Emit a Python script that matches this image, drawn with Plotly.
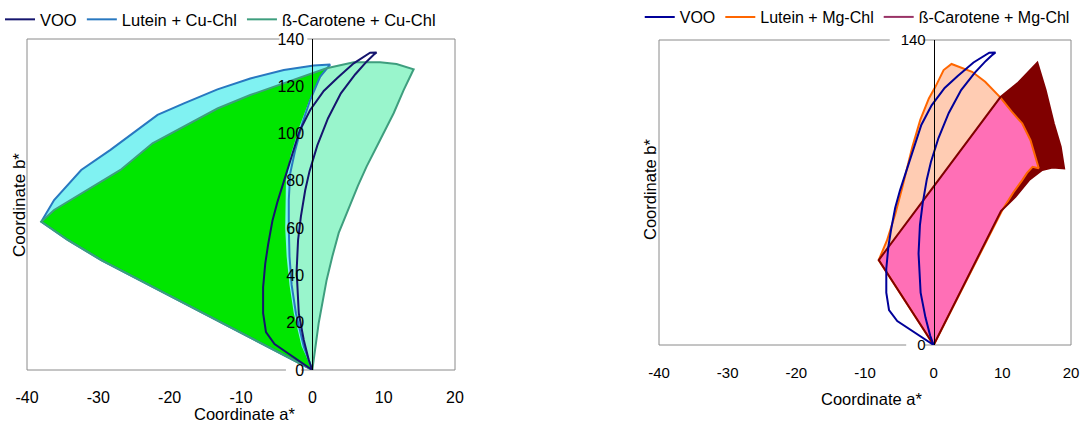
import plotly.graph_objects as go

# ---- VOO colour trajectory (a*, b*) shared by both panels ----
voo_a = [0, -1.7, -3.5, -5.3, -6.5, -6.9, -6.9, -6.6, -6.2, -5.6, -4.9, -4.3, -3.5, -2.6, -1.8, -0.3,
         1.6, 3.5, 5.8, 8.1, 9.0, 8.6, 7.6, 6.0, 4.0, 2.2, 0.7, -0.4, -1.0, -1.6, -2.0, -2.2, -2.1,
         -1.9, -1.2, -0.5, 0]
voo_b = [0, 3.5, 7, 11, 16, 24, 35, 45, 53, 63, 71, 77, 85, 93, 101, 110,
         118, 123.5, 129.7, 134.2, 134.3, 133.3, 130.4, 125, 117, 106.5, 95, 84, 76, 65, 55, 42, 33,
         24, 12.7, 4.2, 0]

# ---- Cu-chlorophyll panel ----
lutein_cu_a = [0, -6.3, -18.0, -29.6, -34.3, -38.0, -36.2, -32.4, -28.3, -24.5, -21.7, -18.0, -13.3,
               -8.7, -4.0, 0.2, 2.5, 1.1, -0.3, -1.4, -2.4, -3.1, -3.3, -3.3, -3.2, -2.9, -2.3, -1.2, 0]
lutein_cu_b = [0, 9.9, 28.2, 46.5, 55.0, 62.7, 71.9, 84.6, 93.1, 101.5, 107.9, 112.8, 118.7,
               123.3, 126.9, 128.8, 129.2, 124.1, 114.2, 104.4, 93.0, 83.2, 72.0, 60.0, 48.0, 36.0, 24.0, 10.0, 0]

beta_cu_a = [0, -6.3, -18.0, -29.6, -34.3, -38.0, -36.2, -31.5, -26.9, -22.4, -18.0, -13.3, -8.7, -4.0,
             -0.8, 2.0, 5.8, 9.5, 11.8, 14.2, 12.8, 11.4, 9.5, 7.6, 6.4, 5.0, 3.7, 2.8, 2.0, 0.9, 0.2, 0]
beta_cu_b = [0, 9.9, 28.2, 46.5, 55.0, 62.7, 67.7, 76.1, 84.6, 95.9, 103.0, 110.6, 116.3, 121.3,
             124.8, 127.6, 130.2, 130.2, 129.4, 127.2, 118.4, 108.6, 97.3, 86.0, 78.0, 68.0, 58.0, 48.0, 38.0, 20.0, 5.0, 0]

# region common to both Cu-Chl gamuts
shared_cu_a = [0, -6.3, -18.0, -29.6, -34.3, -38.0, -36.2, -31.5, -26.9, -22.4, -18.0, -13.3, -8.7, -4.0,
               -0.8, 2.0, 0.8, -0.4, -1.8, -3.1, -3.7, -3.8, -3.8, -3.6, -3.2, -2.6, -1.5, 0]
shared_cu_b = [0, 9.9, 28.2, 46.5, 55.0, 62.7, 67.7, 76.1, 84.6, 95.9, 103.0, 110.6, 116.3, 121.3,
               124.8, 127.6, 122.0, 114.2, 103.0, 90.2, 80.0, 70.0, 60.0, 48.0, 36.0, 24.0, 10.0, 0]

# ---- Mg-chlorophyll panel ----
lutein_mg_a = [0, -8.0, -6.8, -5.6, -4.6, -3.9, -3.1, -1.95, -0.7, 0.25, 1.45, 2.6, 5.6, 7.5, 9.7,
               11.4, 12.9, 14.1, 14.8, 15.3, 14.4, 13.6, 12.9, 11.6, 10.0, 0]
lutein_mg_b = [0, 39.0, 48.0, 60.0, 72.0, 81.0, 91.0, 103.3, 113.2, 118.5, 126.2, 129.0, 125.4, 120.8, 113.7,
               107.0, 101.7, 94.0, 86.4, 81.1, 81.8, 79.0, 75.7, 70.0, 62.0, 0]

beta_mg_a = [0, -8.0, 9.7, 12.2, 15.1, 16.3, 17.5, 18.5, 19.0, 17.3, 15.8, 14.6, 13.9, 11.9, 9.8, 0]
beta_mg_b = [0, 39.0, 113.7, 120.1, 129.6, 117.0, 101.7, 91.0, 81.1, 81.5, 80.3, 77.5, 75.7, 68.0, 61.5, 0]

# region common to both Mg-Chl gamuts
shared_mg_a = [0, -8.0, 9.7, 11.4, 12.9, 14.1, 14.8, 15.3, 14.4, 13.6, 12.9, 11.6, 10.0, 0]
shared_mg_b = [0, 39.0, 113.7, 107.0, 101.7, 94.0, 86.4, 81.1, 81.8, 79.0, 75.7, 70.0, 62.0, 0]

a_ticks = [-40, -30, -20, -10, 0, 10, 20]
a_tick_text = ["-40", "-30", "-20", "-10", "0", "10", "20"]
b_ticks_cu = [0, 20, 40, 60, 80, 100, 120, 140]
b_ticks_mg = [0, 140]

FONT = "Liberation Sans, Arial, sans-serif"

fig = go.Figure()


def area(xs, ys, color, xa, ya):
    fig.add_trace(go.Scatter(x=xs, y=ys, mode="lines", fill="toself", fillcolor=color,
                             line=dict(width=0, color=color), hoverinfo="skip",
                             showlegend=False, xaxis=xa, yaxis=ya))


def outline(xs, ys, color, name, xa, ya, legend, rank, width=2, show=True):
    fig.add_trace(go.Scatter(x=xs, y=ys, mode="lines", name=name,
                             line=dict(color=color, width=width), showlegend=show,
                             xaxis=xa, yaxis=ya, legend=legend, legendrank=rank))


# Cu-Chl panel
area(beta_cu_a, beta_cu_b, "#99F5CC", "x", "y")
area(lutein_cu_a, lutein_cu_b, "#80F2F2", "x", "y")
area(shared_cu_a, shared_cu_b, "#00E600", "x", "y")
outline(lutein_cu_a, lutein_cu_b, "#2878C0", "Lutein + Cu-Chl", "x", "y", "legend", 2)
outline(beta_cu_a, beta_cu_b, "#3E9E7E", "ß-Carotene + Cu-Chl", "x", "y", "legend", 3)
outline(voo_a, voo_b, "#15156E", "VOO", "x", "y3", "legend", 1)

# Mg-Chl panel
area(beta_mg_a, beta_mg_b, "#800000", "x2", "y2")
area(lutein_mg_a, lutein_mg_b, "#FFCCB3", "x2", "y2")
area(shared_mg_a, shared_mg_b, "#FF6FB6", "x2", "y2")
outline(lutein_mg_a, lutein_mg_b, "#FF6600", "Lutein + Mg-Chl", "x2", "y2", "legend2", 2)
outline(beta_mg_a, beta_mg_b, "#800000", "ß-Carotene + Mg-Chl", "x2", "y2", "legend2", 3, show=False)
outline(voo_a, voo_b, "#000099", "VOO", "x2", "y4", "legend2", 1)
# legend swatch for the Mg-Chl ß-carotene entry uses a plum tone
fig.add_trace(go.Scatter(x=[None], y=[None], mode="lines", name="ß-Carotene + Mg-Chl",
                         line=dict(color="#993366", width=2), xaxis="x2", yaxis="y2",
                         legend="legend2", legendrank=3))

left_dom = [27 / 1088, 455 / 1088]
right_dom = [659 / 1088, 1071 / 1088]
left_zero = left_dom[0] + (left_dom[1] - left_dom[0]) * 2 / 3
right_zero = right_dom[0] + (right_dom[1] - right_dom[0]) * 2 / 3

axis_common = dict(showgrid=False, zeroline=False, ticks="", showline=False, automargin=False)
zero_axis = dict(showgrid=False, zeroline=False, ticks="", showline=True, automargin=False,
                 linecolor="black", linewidth=1, ticklabelstandoff=5, side="left",
                 anchor="free", range=[0, 140])

fig.update_layout(
    width=1088, height=422,
    margin=dict(l=0, r=0, t=0, b=0),
    paper_bgcolor="white", plot_bgcolor="white",
    font=dict(family=FONT, color="black"),
    xaxis=dict(domain=left_dom, range=[-40, 20], anchor="y", tickvals=a_ticks, ticktext=a_tick_text,
               tickfont=dict(size=16), ticklabelstandoff=16, **axis_common),
    yaxis=dict(domain=[52 / 422, 383 / 422], range=[0, 140], anchor="x",
               showticklabels=False, **axis_common),
    yaxis3=dict(overlaying="y", position=left_zero, tickvals=b_ticks_cu,
                tickfont=dict(size=16), **zero_axis),
    xaxis2=dict(domain=right_dom, range=[-40, 20], anchor="y2", tickvals=a_ticks, ticktext=a_tick_text,
                tickfont=dict(size=15), ticklabelstandoff=17, **axis_common),
    yaxis2=dict(domain=[77 / 422, 382 / 422], range=[0, 140], anchor="x2",
                showticklabels=False, **axis_common),
    yaxis4=dict(overlaying="y2", position=right_zero, tickvals=b_ticks_mg,
                tickfont=dict(size=15), **zero_axis),
    legend=dict(orientation="h", x=0.0, y=0.995, xanchor="left", yanchor="top",
                font=dict(size=16.5), bgcolor="rgba(0,0,0,0)", traceorder="normal"),
    legend2=dict(orientation="h", x=0.588, y=1.0, xanchor="left", yanchor="top",
                 font=dict(size=16), bgcolor="rgba(0,0,0,0)", traceorder="normal"),
)

# plot-area frames, left open where the 140 and 0 labels sit
border = dict(color="#8A8A8A", width=1)
for xr, yr, top_gap, bot_gap in [("x domain", "y domain", (0.59, 0.655), (0.605, 0.64)),
                                 ("x2 domain", "y2 domain", (0.56, 0.64), (0.60, 0.645))]:
    segs = [(0, 0, 0, 1), (1, 0, 1, 1),
            (0, 1, top_gap[0], 1), (top_gap[1], 1, 1, 1),
            (0, 0, bot_gap[0], 0), (bot_gap[1], 0, 1, 0)]
    for x0, y0, x1, y1 in segs:
        fig.add_shape(type="line", xref=xr, yref=yr, x0=x0, y0=y0, x1=x1, y1=y1,
                      line=border, layer="below")

# axis titles
titles = [
    ("Coordinate a*", 244 / 1088, 1 - 414 / 422, 0, 16.5),
    ("Coordinate b*", 20 / 1088, 1 - 205 / 422, -90, 17),
    ("Coordinate a*", 871 / 1088, 1 - 399 / 422, 0, 16.5),
    ("Coordinate b*", 650 / 1088, 1 - 190 / 422, -90, 16.5),
]
for text, x, y, ang, size in titles:
    fig.add_annotation(text=text, x=x, y=y, xref="paper", yref="paper", showarrow=False,
                       textangle=ang, xanchor="center", yanchor="middle",
                       font=dict(size=size, family=FONT, color="black"))

fig.write_html("out.html")
